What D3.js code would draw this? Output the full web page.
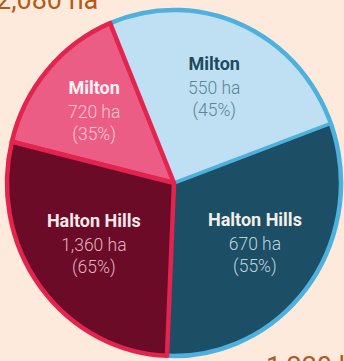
<!DOCTYPE html>
<html>
<head>
<meta charset="utf-8">
<script src="https://cdn.jsdelivr.net/npm/d3@7"></script>
<style>
  html, body { margin: 0; padding: 0; background: #fdeadc; }
  svg { display: block; }
</style>
</head>
<body>
<script>
// Land area by municipality, two groups of the same pie
const regions = ["Milton", "Halton Hills"];
const leftHectares = [720, 1360];
const rightHectares = [550, 670];

const W = 344, H = 361;
const cx = 174, cy = 183, R = 167, yStretch = 173 / 167;
const deg = Math.PI / 180;
// the two groups meet along a bent divider: top-left rim -> centre -> bottom rim
const dividerTop = -22.5 * deg, dividerBottom = 182.4 * deg;

const haFmt = d3.format(",");
const pctFmt = d3.format(".0%");

const svg = d3.select("body").append("svg")
  .attr("width", W).attr("height", H)
  .style("font-family", "Roboto, 'Noto Sans', sans-serif");

svg.append("rect").attr("width", W).attr("height", H).attr("fill", "#fdeadc");

const pieG = svg.append("g")
  .attr("transform", `translate(${cx},${cy}) scale(1,${yStretch})`);

const arc = d3.arc().innerRadius(0).outerRadius(R);

const groups = [
  {
    values: leftHectares,
    pie: d3.pie().sort(null).startAngle(dividerTop).endAngle(dividerBottom - 2 * Math.PI),
    fills: ["#ec5d85", "#6b0b28"],
    nameColors: ["#fdf1f4", "#f6e7eb"],
    valueColors: ["#fbc8d6", "#e2b3c0"],
    labelRadius: [0.63, 0.6],
    stroke: "#e2244f"
  },
  {
    values: rightHectares,
    pie: d3.pie().sort(null).startAngle(dividerTop).endAngle(dividerBottom),
    fills: ["#bfe0f2", "#1c4e66"],
    nameColors: ["#1c4a5f", "#f3efe9"],
    valueColors: ["#5c8496", "#bdd4de"],
    labelRadius: [0.6, 0.6],
    stroke: "#4eb1dd"
  }
];

groups.forEach(g => { g.arcs = g.pie(g.values); g.total = d3.sum(g.values); });

// right group: fills, outer rim and the separator between its slices
const right = groups[1];
pieG.selectAll("path.right").data(right.arcs).join("path")
  .attr("class", "right")
  .attr("d", arc)
  .attr("fill", (d, i) => right.fills[i]);

pieG.append("path")
  .attr("d", d3.arc()({ innerRadius: R, outerRadius: R, startAngle: dividerTop, endAngle: dividerBottom }))
  .attr("fill", "none")
  .attr("stroke", right.stroke)
  .attr("stroke-width", 4.5)
  .attr("vector-effect", "non-scaling-stroke");

const sepEnd = d3.pointRadial(right.arcs[1].startAngle, R);
pieG.append("line")
  .attr("x1", 0).attr("y1", 0)
  .attr("x2", sepEnd[0]).attr("y2", sepEnd[1])
  .attr("stroke", right.stroke)
  .attr("stroke-width", 3.5)
  .attr("vector-effect", "non-scaling-stroke");

// left group: slices fully outlined in red, drawn over the divider
const left = groups[0];
pieG.selectAll("path.left").data(left.arcs).join("path")
  .attr("class", "left")
  .attr("d", arc)
  .attr("fill", (d, i) => left.fills[i])
  .attr("stroke", left.stroke)
  .attr("stroke-width", 4.5)
  .attr("stroke-linejoin", "round")
  .attr("vector-effect", "non-scaling-stroke");

// slice labels: name, hectares, share of the group
groups.forEach(g => {
  g.arcs.forEach((d, i) => {
    const mid = (d.startAngle + d.endAngle) / 2;
    const p = d3.pointRadial(mid, R * g.labelRadius[i]);
    const x = cx + p[0];
    const y = cy + p[1] * yStretch + 6;
    const t = svg.append("text").attr("text-anchor", "middle");
    t.append("tspan").attr("x", x).attr("y", y - 24)
      .attr("font-size", 18).attr("font-weight", 700)
      .attr("fill", g.nameColors[i])
      .text(regions[i]);
    t.append("tspan").attr("x", x).attr("y", y)
      .attr("font-size", 17.5).attr("font-weight", 300)
      .attr("fill", g.valueColors[i])
      .text(`${haFmt(d.data)} ha`);
    t.append("tspan").attr("x", x).attr("y", y + 22)
      .attr("font-size", 17.5).attr("font-weight", 300)
      .attr("fill", g.valueColors[i])
      .text(`(${pctFmt(d.data / g.total)})`);
  });
});

// group totals, running off the top-left and bottom-right edges
svg.append("text")
  .attr("x", -4).attr("y", 9)
  .attr("font-size", 27).attr("fill", "#b35b17")
  .text(`${haFmt(left.total)} ha`);
svg.append("text")
  .attr("x", 266).attr("y", 376)
  .attr("font-size", 27).attr("fill", "#b35b17")
  .text(`${haFmt(right.total)} ha`);
</script>
</body>
</html>
